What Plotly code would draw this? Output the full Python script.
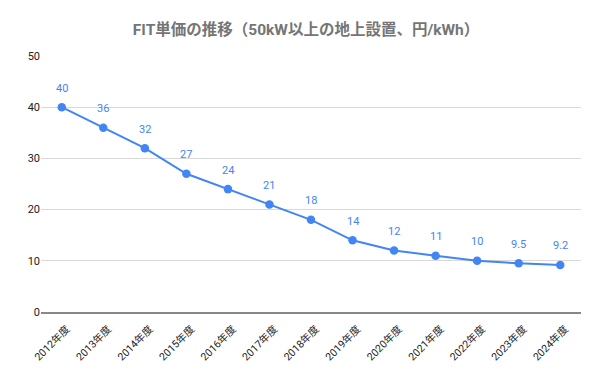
import plotly.graph_objects as go

categories = ["2012年度", "2013年度", "2014年度", "2015年度", "2016年度", "2017年度", "2018年度",
              "2019年度", "2020年度", "2021年度", "2022年度", "2023年度", "2024年度"]
values = [40, 36, 32, 27, 24, 21, 18, 14, 12, 11, 10, 9.5, 9.2]
labels = ["40", "36", "32", "27", "24", "21", "18", "14", "12", "11", "10", "9.5", "9.2"]

fig = go.Figure(go.Scatter(
    x=categories, y=values, mode="lines+markers",
    line=dict(color="#4285F4", width=2),
    marker=dict(color="#4285F4", size=8.5),
    cliponaxis=False, hoverinfo="skip",
))

for c, v, t in zip(categories, values, labels):
    fig.add_annotation(x=c, y=v, text=t, showarrow=False, yshift=19,
                       font=dict(color="#4285F4", size=11, family="Roboto, Noto Sans CJK JP"))

fig.update_layout(
    width=600, height=370,
    margin=dict(l=41, r=19, t=56, b=58, autoexpand=False),
    paper_bgcolor="white", plot_bgcolor="white",
    title=dict(text="<b>FIT単価の推移（50kW以上の地上設置、円/kWh）</b>",
               x=0.51, xanchor="center", y=1 - 30 / 370, yanchor="middle",
               font=dict(size=15.5, color="#757575", family="Roboto, Noto Sans CJK JP")),
    showlegend=False,
    font=dict(family="Roboto, Noto Sans CJK JP", color="#222222", size=11),
)
fig.update_xaxes(type="category", range=[-0.5, len(categories) - 0.5], tickangle=-45,
                 showgrid=False, showline=True,
                 linecolor="#888888", linewidth=1.5, ticks="", automargin=False,
                 ticklabelshift=5, ticklabelstandoff=5,
                 tickfont=dict(size=10.5, color="#222222"))
fig.update_yaxes(range=[0, 50], dtick=10, showgrid=True, gridcolor="#d9d9d9",
                 zeroline=False, ticks="", automargin=False,
                 tickfont=dict(size=11, color="#222222"))

fig.write_html("out.html", config={"displayModeBar": False},
               post_script="document.body.style.margin='0';document.body.style.overflow='hidden';")
